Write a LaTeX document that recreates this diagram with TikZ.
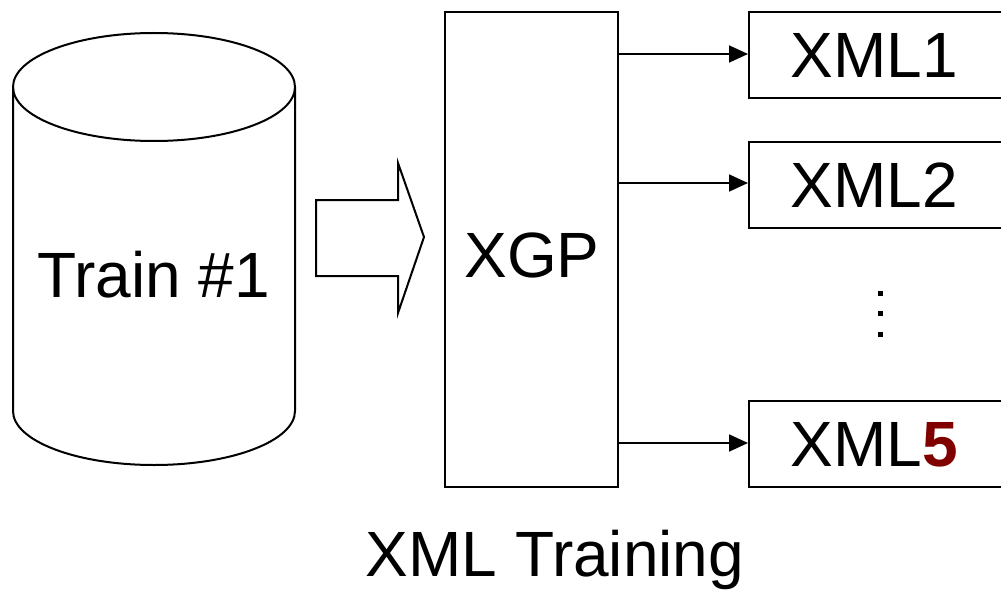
\documentclass[tikz,border=0pt]{standalone}
\usepackage{fontspec}
\setmainfont{Liberation Sans}
\usetikzlibrary{arrows.meta}
\definecolor{darkred}{RGB}{128,0,0}
\tikzset{
  outline/.style={draw=black, line width=2pt},
  boxnode/.style={outline, rectangle, inner sep=0pt},
  label64/.style={inner sep=0pt, font=\fontsize{64}{70}\selectfont},
  link/.style={line width=1.8pt, -{Triangle[length=19pt,width=17pt]}},
}
\begin{document}
\begin{tikzpicture}[x=1pt, y=-1pt, line join=miter]
\useasboundingbox (0,0) rectangle (1001,599);

% database cylinder
\draw[outline] (13,87) -- (13,411) arc[start angle=180, end angle=0, x radius=141, y radius=54] -- (295,87);
\draw[outline] (154,87) ellipse[x radius=141, y radius=54];
\node[label64] (train) at (154,275) {Train \#1};

% block arrow into the generator
\draw[outline] (316,200) -- (398,200) -- (398,163) -- (424,237) -- (398,313) -- (398,276) -- (316,276) -- cycle;

% generator
\node[boxnode, minimum width=173pt, minimum height=475pt] (xgp) at (531.5,249.5) {};
\node[label64] (xgplabel) at (532,255) {XGP};

% generated files (boxes run past the right edge)
\node[boxnode, anchor=west, minimum width=270pt, minimum height=86pt] (xml1) at (748,55) {};
\node[boxnode, anchor=west, minimum width=270pt, minimum height=86pt] (xml2) at (748,185) {};
\node[boxnode, anchor=west, minimum width=270pt, minimum height=86pt] (xml5) at (748,444) {};
\node[label64] (xml1label) at (874,55.5) {XML1};
\node[label64] (xml2label) at (874,185) {XML2};
\node[label64] (xml5label) at (874,445) {XML\textcolor{darkred}{\textbf{5}}};

% vertical ellipsis between the boxes
\foreach \yy in {293,313,334} \fill (877.5,\yy-2.5) rectangle (882.5,\yy+2.5);

% connectors
\draw[link] (xgp.east |- 0,54) -- (xml1.west |- 0,54);
\draw[link] (xgp.east |- 0,183) -- (xml2.west |- 0,183);
\draw[link] (xgp.east |- 0,443) -- (xml5.west |- 0,443);

% caption
\node[label64] (caption) at (555,560) {XML Training};
\end{tikzpicture}
\end{document}
